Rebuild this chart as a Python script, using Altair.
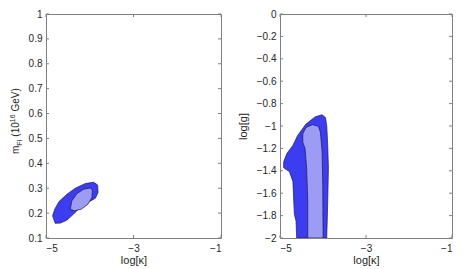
import altair as alt
import pandas as pd

# ---- data ----
# left panel: log[kappa] vs m_FI (10^16 GeV)
L_outer_x = [-4.79, -4.85, -4.80, -4.70, -4.52, -4.33, -4.10, -3.91, -3.82, -3.81, -3.87, -4.04, -4.22, -4.37, -4.52, -4.67, -4.79]
L_outer_y = [0.159, 0.189, 0.216, 0.247, 0.276, 0.300, 0.319, 0.324, 0.313, 0.283, 0.260, 0.243, 0.223, 0.196, 0.172, 0.160, 0.159]
L_inner_x = [-4.445, -4.41, -4.29, -4.14, -3.99, -3.94, -3.95, -4.04, -4.19, -4.35, -4.445]
L_inner_y = [0.216, 0.249, 0.279, 0.296, 0.301, 0.292, 0.263, 0.236, 0.216, 0.209, 0.216]

# right panel: log[kappa] vs log[g]
R_outer_x = [-4.612, -4.627, -4.666, -4.68, -4.70, -4.78, -4.915, -4.915, -4.84, -4.70, -4.59, -4.394, -4.18, -4.02, -3.944, -3.913, -3.89, -3.874, -3.89, -3.913, -4.612]
R_outer_y = [-2.0, -1.848, -1.789, -1.67, -1.496, -1.408, -1.372, -1.32, -1.246, -1.173, -1.085, -0.982, -0.918, -0.90, -0.924, -0.997, -1.173, -1.378, -1.672, -2.0, -2.0]
R_inner_x = [-4.355, -4.355, -4.38, -4.417, -4.47, -4.47, -4.394, -4.24, -4.107, -4.06, -4.02, -4.006, -3.998, -4.355]
R_inner_y = [-2.0, -1.672, -1.378, -1.202, -1.144, -1.070, -1.012, -0.988, -1.003, -1.056, -1.232, -1.525, -2.0, -2.0]

x_ticks = [-5, -3, -1]
L_y_ticks = [0.1, 0.2, 0.3, 0.4, 0.5, 0.6, 0.7, 0.8, 0.9, 1.0]
R_y_ticks = [-2.0, -1.8, -1.6, -1.4, -1.2, -1.0, -0.8, -0.6, -0.4, -0.2, 0.0]

OUTER = "#3c3cf0"
INNER = "#9c9cf4"
EDGE = "#1a1a50"
AX = "#808080"
FONT = "Liberation Sans"


def poly_df(xs, ys):
    return pd.DataFrame({"x": xs, "y": ys, "o": list(range(len(xs)))})


def panel(outer, inner, ydom, yticks, W, H, ytitle, ylabpad, ytitlepad):
    xs = alt.Scale(domain=[-5, -1], nice=False, zero=False)
    ys = alt.Scale(domain=ydom, nice=False, zero=False)
    xax = alt.Axis(values=x_ticks, format="d", title="log[κ]", ticks=False, domain=False,
                   grid=False, labelPadding=5, titlePadding=1)
    yax = alt.Axis(values=yticks, format=".1~f", title=ytitle, ticks=False, domain=False,
                   grid=False, labelPadding=ylabpad, titlePadding=ytitlepad)

    def shape(df, col):
        return alt.Chart(df).mark_line(fill=col, stroke=EDGE, strokeWidth=0.7, clip=True).encode(
            x=alt.X("x:Q", scale=xs, axis=xax),
            y=alt.Y("y:Q", scale=ys, axis=yax),
            order="o:Q",
        )

    ytk = pd.DataFrame({"v": yticks})
    xtk = pd.DataFrame({"v": x_ticks})
    tl = 3
    yt1 = alt.Chart(ytk).mark_rule(color=AX, strokeWidth=1).encode(
        y=alt.Y("v:Q", scale=ys, axis=yax), x=alt.value(0), x2=alt.value(tl))
    yt2 = alt.Chart(ytk).mark_rule(color=AX, strokeWidth=1).encode(
        y=alt.Y("v:Q", scale=ys, axis=yax), x=alt.value(W - tl), x2=alt.value(W))
    xt1 = alt.Chart(xtk).mark_rule(color=AX, strokeWidth=1).encode(
        x=alt.X("v:Q", scale=xs, axis=xax), y=alt.value(H), y2=alt.value(H - tl))
    xt2 = alt.Chart(xtk).mark_rule(color=AX, strokeWidth=1).encode(
        x=alt.X("v:Q", scale=xs, axis=xax), y=alt.value(0), y2=alt.value(tl))
    layers = [shape(outer, OUTER), shape(inner, INNER), yt1, yt2, xt1, xt2]
    return layers


W1, W2, H = 175, 172, 224

left_layers = panel(poly_df(L_outer_x, L_outer_y), poly_df(L_inner_x, L_inner_y),
                    [0.1, 1.0], L_y_ticks, W1, H, None, 4, 0)

# composed y title: m_FI (10^16 GeV)
one = pd.DataFrame({"a": [0]})
xb = -27
y0 = 140
pieces = [
    ("m", 10, 0, 0.0),
    ("FI", 7, 3, 8.3),
    ("(10", 10, 0, 17.3),
    ("16", 7, -4, 31.8),
    ("GeV)", 10, 0, 42.4),
]
for txt, fs, dx, dy in pieces:
    left_layers.append(
        alt.Chart(one).mark_text(text=txt, angle=270, align="left", baseline="alphabetic",
                                 font=FONT, fontSize=fs, color="#262626").encode(
            x=alt.value(xb + dx), y=alt.value(y0 - dy))
    )

right_layers = panel(poly_df(R_outer_x, R_outer_y), poly_df(R_inner_x, R_inner_y),
                     [-2.0, 0.0], R_y_ticks, W2, H, "log[g]", 4, 8)

left = alt.layer(*left_layers).properties(width=W1, height=H)
right = alt.layer(*right_layers).properties(width=W2, height=H)

chart = alt.hconcat(left, right, spacing=14).properties(padding=0).configure_view(
    stroke=AX, strokeWidth=1
).configure_axis(
    labelFont=FONT, labelFontSize=10, labelColor="#262626",
    titleFont=FONT, titleFontSize=11, titleFontWeight="normal", titleColor="#262626",
)

chart.save("out.html", embed_options={"renderer": "svg", "actions": False})
